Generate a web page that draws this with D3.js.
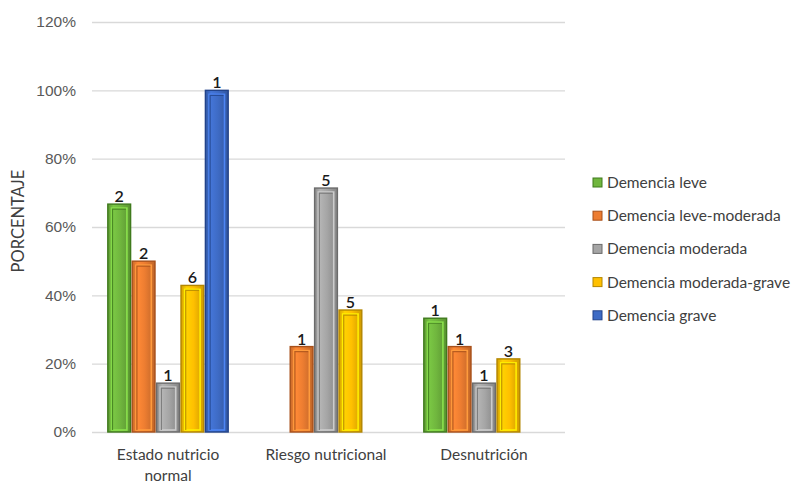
<!DOCTYPE html>
<html>
<head>
<meta charset="utf-8">
<script src="https://cdn.jsdelivr.net/npm/d3@7"></script>
<style>
  html, body { margin: 0; padding: 0; background: #fff; }
  svg { display: block; font-family: Lato, "Open Sans", sans-serif; }
</style>
</head>
<body>
<svg id="chart" width="800" height="483"></svg>
<script>
// Nutritional status groups (x axis)
const categories = [["Estado nutricio", "normal"], ["Riesgo nutricional"], ["Desnutrición"]];
const categoryKeys = ["Estado nutricio normal", "Riesgo nutricional", "Desnutrición"];

// Dementia severity series
const seriesNames = ["Demencia leve", "Demencia leve-moderada", "Demencia moderada", "Demencia moderada-grave", "Demencia grave"];
const seriesColors = ["#70b63e", "#ed7d31", "#a5a5a5", "#ffc000", "#3e6bc5"];
const seriesDark = ["#3f7a1d", "#a8501a", "#6b6b6b", "#b38600", "#22438a"];

// Percentage of each series falling in each group (null = no bar)
const leve = [66.7, null, 33.3];
const leveModerada = [50, 25, 25];
const moderada = [14.3, 71.4, 14.3];
const moderadaGrave = [42.9, 35.7, 21.4];
const grave = [100, null, null];

// Patient counts shown above each bar
const leveN = [2, null, 1];
const leveModeradaN = [2, 1, 1];
const moderadaN = [1, 5, 1];
const moderadaGraveN = [6, 5, 3];
const graveN = [1, null, null];

// Y axis ticks
const yTicks = [0, 20, 40, 60, 80, 100, 120];
const yTitle = "PORCENTAJE";

const values = [leve, leveModerada, moderada, moderadaGrave, grave];
const counts = [leveN, leveModeradaN, moderadaN, moderadaGraveN, graveN];

const svg = d3.select("#chart");
const margin = { left: 89, right: 237, top: 22, bottom: 51 };
const width = 800, height = 483;

const x0 = d3.scaleBand().domain(categoryKeys).range([margin.left, width - margin.right]).paddingInner(0.228).paddingOuter(0.114);
const x1 = d3.scaleBand().domain(seriesNames).range([0, x0.bandwidth()]).padding(0);
const y = d3.scaleLinear().domain([0, 120]).range([height - margin.bottom, margin.top]);

// Gradients for a slightly rounded bar look
const defs = svg.append("defs");
seriesColors.forEach((c, i) => {
  const g = defs.append("linearGradient").attr("id", "grad" + i).attr("x1", "0").attr("x2", "1").attr("y1", "0").attr("y2", "0");
  const base = d3.color(c);
  g.append("stop").attr("offset", "0%").attr("stop-color", base.darker(0.5));
  g.append("stop").attr("offset", "25%").attr("stop-color", base.brighter(0.25));
  g.append("stop").attr("offset", "55%").attr("stop-color", base);
  g.append("stop").attr("offset", "100%").attr("stop-color", base.darker(0.6));
});

// Gridlines
const yAxis = d3.axisLeft(y).tickValues(yTicks).tickFormat(d => d + "%").tickSize(-(565 - margin.left - 3)).tickPadding(16);
const gy = svg.append("g").attr("transform", `translate(${margin.left + 3},0)`).call(yAxis);
gy.select(".domain").remove();
gy.selectAll(".tick line").attr("stroke", "#d9d9d9").attr("stroke-width", 1.3);
gy.selectAll(".tick text").attr("fill", "#595959").attr("font-size", 15.5);

// Y axis title
svg.append("text")
  .attr("transform", `translate(24,221) rotate(-90)`)
  .attr("text-anchor", "middle").attr("fill", "#404040").attr("font-size", 16.5)
  .text(yTitle);

// Category labels
categories.forEach((lines, ci) => {
  const cx = x0(categoryKeys[ci]) + x0.bandwidth() / 2;
  const t = svg.append("text").attr("text-anchor", "middle").attr("fill", "#404040").attr("font-size", 15.5);
  lines.forEach((ln, li) => t.append("tspan").attr("x", cx).attr("y", 460 + li * 21).text(ln));
});

// Bars
const bars = [];
categoryKeys.forEach((cat, ci) => {
  seriesNames.forEach((s, si) => {
    const v = values[si][ci];
    if (v == null) return;
    bars.push({ cat, s, si, v, n: counts[si][ci] });
  });
});

const bw = x1.bandwidth();
const gBars = svg.append("g");
const bar = gBars.selectAll("g.bar").data(bars).join("g").attr("class", "bar")
  .attr("transform", d => `translate(${x0(d.cat) + x1(d.s)},0)`);

bar.append("rect")
  .attr("x", 0.8).attr("width", bw - 1.6)
  .attr("y", d => y(d.v)).attr("height", d => y(0) - y(d.v))
  .attr("fill", d => `url(#grad${d.si})`)
  .attr("stroke", d => seriesDark[d.si]).attr("stroke-width", 1.4);

// inner bevel frame
bar.append("rect")
  .attr("x", 4.5).attr("width", bw - 9)
  .attr("y", d => y(d.v) + 4).attr("height", d => Math.max(0, y(0) - y(d.v) - 6))
  .attr("fill", "none")
  .attr("stroke", d => d3.color(seriesColors[d.si]).brighter(0.6)).attr("stroke-width", 1.6);
bar.append("path")
  .attr("d", d => `M${5.5},${y(0) - 2} V${y(d.v) + 5} H${bw - 5.5}`)
  .attr("fill", "none")
  .attr("stroke", d => seriesDark[d.si]).attr("stroke-width", 1.2).attr("opacity", 0.8);

// Count labels
bar.append("text")
  .attr("x", bw / 2).attr("y", d => y(d.v) - 2)
  .attr("text-anchor", "middle").attr("font-size", 16).attr("font-weight", 600).attr("fill", "#1a1a1a")
  .text(d => d.n);

// Legend
const legend = svg.append("g").attr("transform", "translate(593,183)");
seriesNames.forEach((s, i) => {
  const row = legend.append("g").attr("transform", `translate(0,${i * 33.2})`);
  row.append("rect").attr("x", 0).attr("y", -5).attr("width", 9).attr("height", 9)
    .attr("fill", seriesColors[i]).attr("stroke", seriesDark[i]).attr("stroke-width", 1);
  row.append("text").attr("x", 14).attr("y", 5).attr("fill", "#404040").attr("font-size", 15.5).text(s);
});
</script>
</body>
</html>
